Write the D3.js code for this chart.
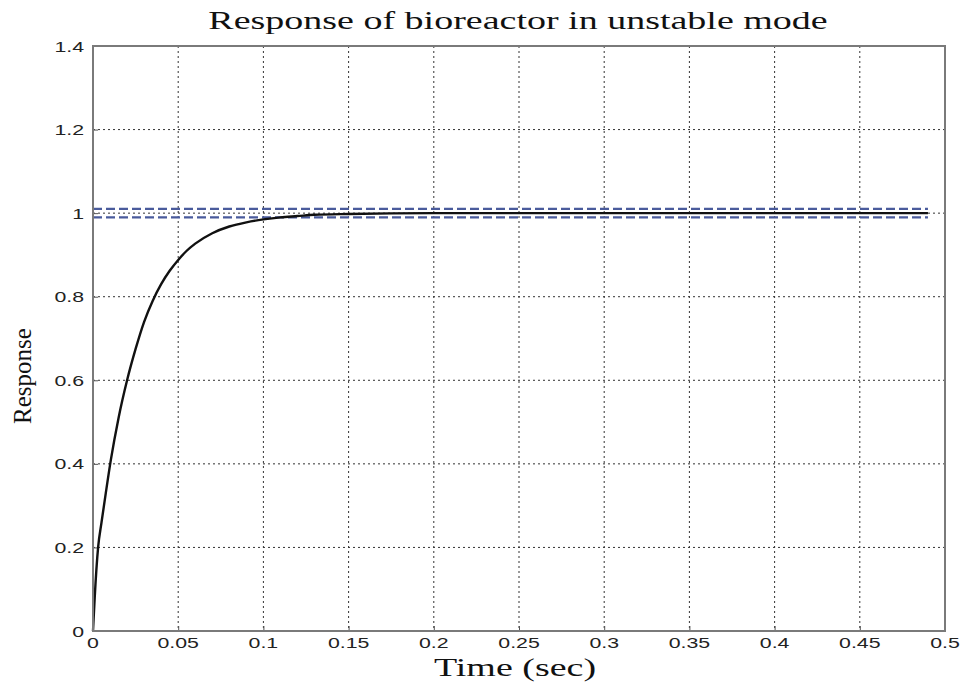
<!DOCTYPE html>
<html>
<head>
<meta charset="utf-8">
<script src="https://cdn.jsdelivr.net/npm/d3@7"></script>
<style>
  html, body { margin: 0; padding: 0; background: #fff; }
  svg { display: block; }
</style>
</head>
<body>
<svg id="chart" width="964" height="685"></svg>
<script>
// ---- data ----
const timeValues = [0, 0.001, 0.003, 0.005, 0.0075, 0.0105, 0.015, 0.02, 0.025, 0.03, 0.035, 0.04, 0.045, 0.05, 0.055, 0.06, 0.07, 0.08, 0.09, 0.1, 0.11, 0.12, 0.13, 0.15, 0.2, 0.3, 0.4, 0.49];
const responseValues = [0, 0.08, 0.2, 0.26, 0.33, 0.41, 0.51, 0.6, 0.675, 0.74, 0.79, 0.83, 0.862, 0.888, 0.91, 0.927, 0.952, 0.968, 0.978, 0.985, 0.99, 0.993, 0.996, 0.998, 1.0, 1.0, 1.0, 1.0];
const bandLevels = [1.01, 0.99];
const bandRange = [0, 0.49];
const xTicks = [0, 0.05, 0.1, 0.15, 0.2, 0.25, 0.3, 0.35, 0.4, 0.45, 0.5];
const xTickLabels = ["0", "0.05", "0.1", "0.15", "0.2", "0.25", "0.3", "0.35", "0.4", "0.45", "0.5"];
const yTicks = [0, 0.2, 0.4, 0.6, 0.8, 1, 1.2, 1.4];
const yTickLabels = ["0", "0.2", "0.4", "0.6", "0.8", "1", "1.2", "1.4"];
const titleText = "Response of bioreactor in unstable mode";
const xLabelText = "Time (sec)";
const yLabelText = "Response";

// ---- layout ----
const L = 93, R = 945, T = 46, B = 631;
const svg = d3.select("#chart");
const x = d3.scaleLinear().domain([0, 0.5]).range([L, R]);
const y = d3.scaleLinear().domain([0, 1.4]).range([B, T]);
const SX = 1.42; // horizontal stretch of tick text in the reference
const SXT = 1.52; // horizontal stretch of title / axis label

// grid
const grid = svg.append("g");
grid.selectAll(".vg").data(xTicks.slice(1, -1)).join("line")
  .attr("x1", d => x(d)).attr("x2", d => x(d)).attr("y1", T).attr("y2", B)
  .attr("stroke", "#333").attr("stroke-width", 1).attr("stroke-dasharray", "2,3");
grid.selectAll(".hg").data(yTicks.slice(1, -1)).join("line")
  .attr("y1", d => y(d)).attr("y2", d => y(d)).attr("x1", L).attr("x2", R)
  .attr("stroke", "#333").attr("stroke-width", 1).attr("stroke-dasharray", "2,3");

// axes via d3 axis (ticks only, labels drawn stretched below)
const xAxis = svg.append("g").attr("transform", `translate(0,${B})`)
  .call(d3.axisBottom(x).tickValues(xTicks).tickSize(-5).tickFormat(""));
const yAxis = svg.append("g").attr("transform", `translate(${L},0)`)
  .call(d3.axisLeft(y).tickValues(yTicks).tickSize(-5).tickFormat(""));
[xAxis, yAxis].forEach(a => {
  a.select(".domain").remove();
  a.selectAll("line").attr("stroke", "#555");
});

// tick labels
svg.append("g").selectAll("text").data(xTicks).join("text")
  .attr("transform", d => `translate(${x(d)},648) scale(${SX},1)`)
  .attr("text-anchor", "middle")
  .attr("font-family", "Liberation Sans, Arial, sans-serif")
  .attr("font-size", 15).attr("fill", "#222")
  .text((d, i) => xTickLabels[i]);
svg.append("g").selectAll("text").data(yTicks).join("text")
  .attr("transform", d => `translate(84,${y(d) + 5.5}) scale(${SX},1)`)
  .attr("text-anchor", "end")
  .attr("font-family", "Liberation Sans, Arial, sans-serif")
  .attr("font-size", 15).attr("fill", "#222")
  .text((d, i) => yTickLabels[i]);

// settling band lines
svg.append("g").selectAll("line").data(bandLevels).join("line")
  .attr("x1", x(bandRange[0])).attr("x2", x(bandRange[1]))
  .attr("y1", d => y(d)).attr("y2", d => y(d))
  .attr("stroke", "#4a5b9c").attr("stroke-width", 2.2).attr("stroke-dasharray", "9,4");

// response curve
const pts = timeValues.map((t, i) => [t, responseValues[i]]);
svg.append("path").datum(pts)
  .attr("d", d3.line().x(d => x(d[0])).y(d => y(d[1])).curve(d3.curveMonotoneX))
  .attr("fill", "none").attr("stroke", "#111").attr("stroke-width", 2.4);

// box
svg.append("rect").attr("x", L).attr("y", T).attr("width", R - L).attr("height", B - T)
  .attr("fill", "none").attr("stroke", "#7a7a7a").attr("stroke-width", 2);

// title and labels
svg.append("text")
  .attr("transform", `translate(${(L + R) / 2 - 1},29) scale(${SXT},1)`)
  .attr("text-anchor", "middle")
  .attr("font-family", "Liberation Serif, Times New Roman, serif")
  .attr("font-size", 25).attr("fill", "#111")
  .text(titleText);
svg.append("text")
  .attr("transform", `translate(${(L + R) / 2 - 4},676) scale(${SXT},1)`)
  .attr("text-anchor", "middle")
  .attr("font-family", "Liberation Serif, Times New Roman, serif")
  .attr("font-size", 25).attr("fill", "#111")
  .text(xLabelText);
svg.append("text")
  .attr("transform", `translate(31,376) rotate(-90)`)
  .attr("text-anchor", "middle")
  .attr("font-family", "Liberation Serif, Times New Roman, serif")
  .attr("font-size", 25).attr("fill", "#111")
  .text(yLabelText);
</script>
</body>
</html>
